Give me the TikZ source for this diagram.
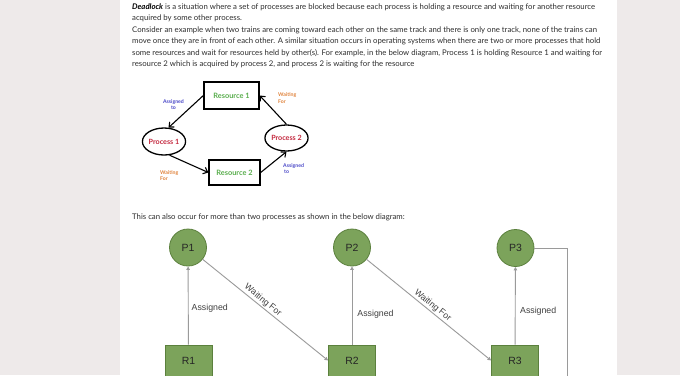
\documentclass[tikz,border=0pt]{standalone}
\usepackage{fontspec}
\setmainfont{Lato}
\newfontfamily\arialf{Liberation Sans}
\usetikzlibrary{arrows.meta,shapes.geometric}
\definecolor{pagegray}{HTML}{EEEAEA}
\definecolor{bodytext}{HTML}{2E2E2E}
\definecolor{resgreen}{HTML}{5AAE4E}
\definecolor{procred}{HTML}{C4283E}
\definecolor{asgblue}{HTML}{4A48C8}
\definecolor{waitorange}{HTML}{E0823A}
\definecolor{nodegreen}{HTML}{7CA35B}
\definecolor{nodeborder}{HTML}{5B803D}
\definecolor{linegray}{HTML}{9A9A9A}
\tikzset{
  para/.style={anchor=base west, inner sep=0pt, text=bodytext, font=\fontsize{7.8}{9}\selectfont},
  resbox/.style={draw=black, line width=1.3bp, inner sep=0pt, text=resgreen, font=\fontsize{7.4}{8}\selectfont\bfseries},
  procell/.style={draw=black, line width=1.3bp, ellipse, inner sep=0pt, text=procred, font=\fontsize{7.2}{8}\selectfont\bfseries},
  blk/.style={draw=black, line width=1.1bp, -{Straight Barb[length=4bp,width=7bp]}},
  tiny/.style={inner sep=0pt, align=left, font=\fontsize{5.2}{6.5}\selectfont\bfseries},
  pcirc/.style={circle, draw=nodeborder, line width=0.8bp, fill=nodegreen, inner sep=0pt, minimum size=37bp, text=black!85, font=\arialf\fontsize{10.5}{12}\selectfont},
  rbox/.style={draw=nodeborder, line width=0.8bp, fill=nodegreen, inner sep=0pt, minimum width=47bp, minimum height=31bp, text=black!85, font=\arialf\fontsize{10.5}{12}\selectfont},
  garrow/.style={draw=linegray, line width=0.9bp, -{Triangle[length=3.5bp,width=3.5bp]}},
  glabel/.style={inner sep=1.5bp, text=black!75, font=\arialf\fontsize{8.8}{10}\selectfont}
}
\begin{document}
\begin{tikzpicture}[x=1bp,y=-1bp]
\useasboundingbox (0,0) rectangle (680,375);
\clip (0,0) rectangle (680,375);
\fill[pagegray] (0,0) rectangle (680,375);
\fill[white] (120,0) rectangle (617,375);

% paragraph
\node[para] (t1) at (132,9) {\textcolor{black}{\textbf{\textit{Deadlock}}} is a situation where a set of processes are blocked because each process is holding a resource and waiting for another resource};
\node[para] (t2) at (132,20.5) {acquired by some other process.};
\node[para] (t3) at (132,32) {Consider an example when two trains are coming toward each other on the same track and there is only one track, none of the trains can};
\node[para] (t4) at (132,43.5) {move once they are in front of each other. A similar situation occurs in operating systems when there are two or more processes that hold};
\node[para] (t5) at (132,55) {some resources and wait for resources held by other(s). For example, in the below diagram, Process 1 is holding Resource 1 and waiting for};
\node[para] (t6) at (132,66.5) {resource 2 which is acquired by process 2, and process 2 is waiting for the resource};

% top diagram
\node[resbox, minimum width=55bp, minimum height=27bp] (RA) at (231.5,95.5) {Resource 1};
\node[resbox, minimum width=51bp, minimum height=25bp] (RB) at (234.5,172.5) {Resource 2};
\node[procell, minimum width=38bp, minimum height=27bp] (PA) at (164,141.5) {Process 1};
\node[procell, minimum width=37bp, minimum height=26bp] (PB) at (286.5,138) {Process 2};

\draw[blk] (RA.west) -- (PA.72);
\draw[blk] (PA.-68) -- (RB.west);
\draw[blk] (PB.north) -- (RA.east);
\draw[blk] (RB.east) -- (PB.south);

\node[tiny, text=asgblue, align=center] (la1) at (173.5,104.5) {Assigned\\to};
\node[tiny, text=waitorange, anchor=west] (lw1) at (160,175.5) {Waiting\\For};
\node[tiny, text=waitorange, anchor=west] (lw2) at (278,98) {Waiting\\For};
\node[tiny, text=asgblue, anchor=west] (la2) at (283,168.5) {Assigned\\\hspace*{1bp}to};

% caption line
\node[para] (t7) at (132,219.5) {This can also occur for more than two processes as shown in the below diagram:};

% bottom diagram
\node[pcirc] (P1) at (188,247.5) {P1};
\node[pcirc] (P2) at (352,247.5) {P2};
\node[pcirc] (P3) at (515.5,248) {P3};
\node[rbox] (R1) at (188.5,360.5) {R1};
\node[rbox] (R2) at (352,360.5) {R2};
\node[rbox] (R3) at (515,360.5) {R3};

\draw[garrow] (R1) -- (P1) node[glabel, pos=0.47, anchor=west, xshift=1.5bp] {Assigned};
\draw[garrow] (R2) -- (P2) node[glabel, pos=0.39, anchor=west, xshift=3.5bp] {Assigned};
\draw[garrow] (R3) -- (P3) node[glabel, pos=0.43, anchor=west, xshift=3bp] {Assigned};
\draw[garrow] (P1) -- (R2.west) node[glabel, pos=0.45, sloped, above] {Waiting For};
\draw[garrow] (P2) -- (R3.west) node[glabel, pos=0.5, sloped, above] {Waiting For};

\coordinate (c1) at (567,248);
\coordinate (c2) at (567,380);
\draw[draw=linegray, line width=0.9bp] (P3.east) -- (c1) -- (c2);
\end{tikzpicture}
\end{document}
